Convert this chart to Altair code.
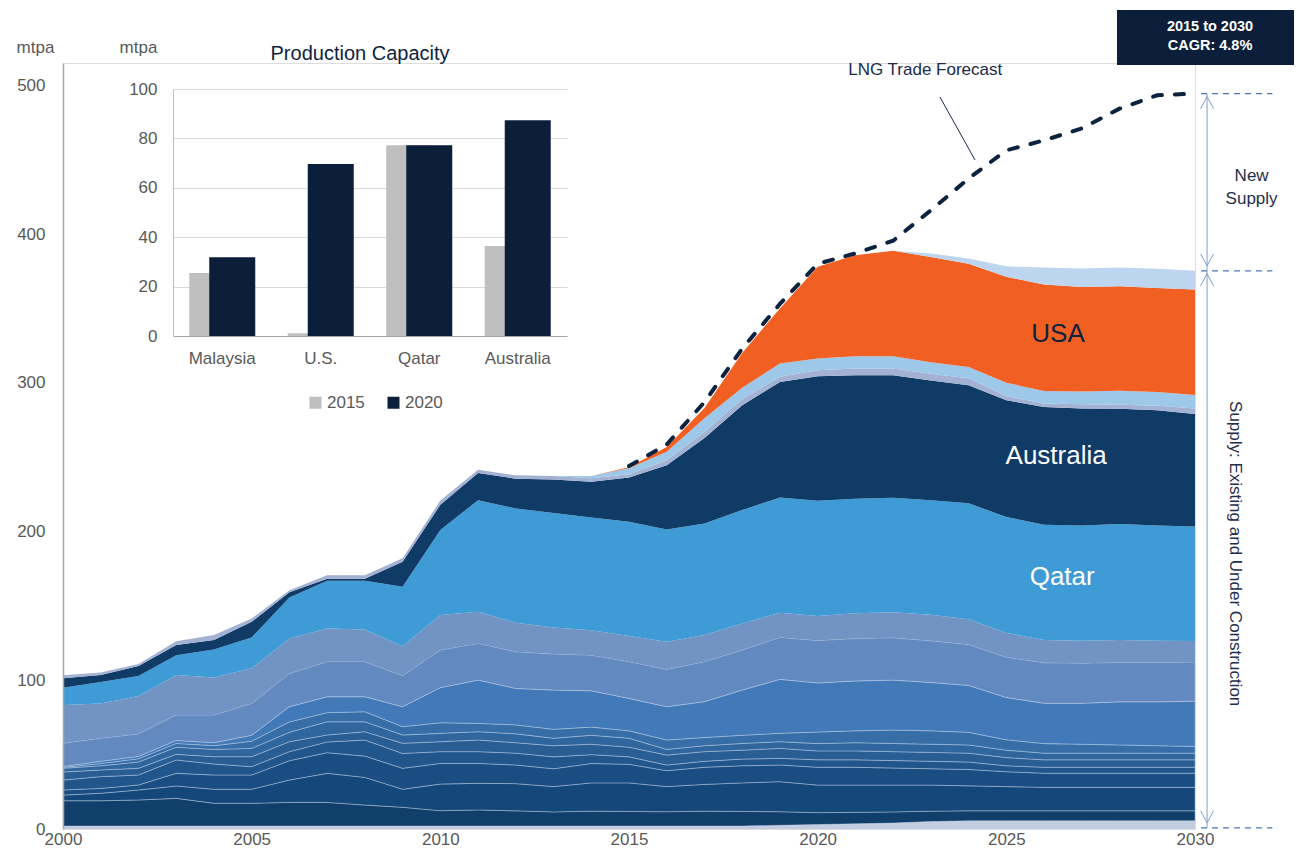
import altair as alt
import pandas as pd

FONT = "Liberation Sans"
GREY = "#595959"
NAVY = "#0c2340"

years = list(range(2000, 2031))

# cumulative layer boundaries (mtpa), bottom -> top
base_top = [2, 2, 2, 2, 2, 2, 2, 2, 2, 2, 2, 2, 2, 2, 2, 2, 2, 2, 2, 2.5, 3, 3.5, 4, 5, 5.5, 5.5, 5.5, 5.5, 5.5, 5.5, 5.5]
b1_top = [19, 19, 19.5, 20.6, 17.3, 17.3, 17.9, 17.9, 16.1, 14.6, 12.3, 12.8, 12.2, 11.5, 12, 11.8, 11.6, 12, 11.8, 11.6, 11, 11.2, 11.5, 12, 12.2, 12.2, 12.2, 12.2, 12.2, 12.2, 12.2]
b2_top = [22.8, 24, 26.2, 28.9, 26.7, 26.7, 32.9, 37.4, 34.7, 26.7, 30.2, 30.7, 30.5, 28.5, 31, 31, 28.5, 30, 31, 31.8, 29.5, 29.5, 29.5, 29.5, 29, 28.5, 28, 28, 28, 28, 28]
b3_top = [26.2, 27.3, 29.6, 37.4, 36.3, 36.3, 45.9, 51.3, 49, 40.8, 44.1, 44.1, 43, 40.5, 44, 43.5, 39.2, 41.5, 42.5, 43, 41.5, 41.5, 41, 40.5, 40, 38.5, 37.5, 37.5, 37.5, 37.5, 37.5]
b4_top = [32.9, 35.2, 36.3, 46.4, 43.7, 41.9, 52, 58.5, 59.8, 50.8, 52, 52, 51, 48.5, 50, 48.5, 43, 45.5, 47, 47.5, 46.5, 46.5, 46, 45.5, 45, 42.5, 41.5, 41.5, 41.5, 41.5, 41.5]
b5_top = [38.3, 39.7, 40.8, 50.2, 48.6, 48.6, 58.7, 63.2, 65.4, 57.6, 58.7, 59.8, 58, 56, 57, 55, 49.7, 52, 53, 54.2, 52.5, 52.5, 52, 51.5, 51, 48, 46.5, 46.5, 46.5, 46.5, 46.5]
b6_top = [40.8, 42.5, 45, 55, 53.5, 54.2, 65, 72.1, 72.1, 63.2, 64.3, 65.4, 64, 61, 63, 61, 53.5, 56, 57.5, 58.7, 57.4, 58, 57.5, 57, 56.5, 53, 51, 51, 51, 51, 51]
b7_top = [41.4, 44, 47.2, 57.5, 56, 59, 72, 78.2, 78.8, 68.8, 71.4, 71, 70, 67, 68.5, 66, 59.8, 61.5, 63, 64.3, 65.2, 66, 66.5, 66, 65, 60, 57.4, 57, 56.5, 56, 55.5]
b8_top = [42, 45.5, 48.8, 59.5, 58, 63, 82.2, 88.9, 88.9, 82.2, 95, 100.1, 94.5, 93.4, 92.9, 87.8, 82.2, 85.6, 93.4, 100.6, 98.2, 99.5, 100.1, 98.5, 96.5, 88.4, 84.5, 84.5, 85.5, 85.5, 85.9]
m_top = [57.6, 61, 63.9, 76.6, 76.6, 84.4, 104.5, 112.5, 112.5, 103.1, 120.3, 124.8, 119.2, 117.6, 116.9, 112.5, 107.3, 112.5, 120.3, 128.8, 126.7, 128, 128.5, 126.5, 124, 115.5, 111.7, 111.5, 112, 112, 112.2]
s_top = [83.3, 84.4, 89.4, 103.5, 101.9, 108, 128.1, 134.8, 134.1, 122.9, 143.8, 146, 138.7, 135.5, 133.7, 129.7, 125.9, 130.4, 138.2, 145.4, 143.2, 145, 145.8, 144, 141, 131.8, 127.1, 126.5, 127, 126.5, 126.4]
qatar_top = [95, 98.8, 102.8, 116.9, 120.7, 128.8, 155.7, 166.9, 166.9, 162.9, 201, 221.1, 215.5, 212.5, 209.5, 206.5, 201.4, 205.4, 214.4, 222.9, 220.7, 222, 222.7, 221, 219, 209.8, 204.6, 204, 205, 204, 203.4]
australia_top = [101.3, 103.5, 109.6, 123.7, 127, 139.3, 159.1, 168.3, 168.3, 179.7, 218, 239.3, 235.5, 235, 233.5, 236.3, 244.6, 262.8, 284.9, 300.6, 304.4, 305.1, 305.1, 301.5, 298.4, 288.3, 283.8, 282.7, 282.5, 281.6, 279]
lav_top = [103.4, 105.3, 111, 126.3, 130.4, 141.6, 160.6, 170.6, 170.6, 182, 220.8, 241.5, 237.8, 237.3, 235.8, 238.5, 248, 267, 289, 304, 308.5, 309.6, 309.6, 306, 303, 291, 286, 285.5, 285.3, 284.5, 282.7]
lb_top = [103.4, 105.3, 111, 126.3, 130.4, 141.6, 160.6, 170.6, 170.6, 182, 220.8, 241.5, 237.8, 237.3, 237.3, 242.5, 253.6, 276.2, 296.6, 313, 316.3, 317.9, 317.9, 313.8, 310.6, 300, 294.5, 294.2, 294.6, 293.8, 291.8]
usa_top = [103.4, 105.3, 111, 126.3, 130.4, 141.6, 160.6, 170.6, 170.6, 182, 220.8, 241.5, 237.8, 237.3, 237.3, 243.2, 256.9, 283, 320, 350, 378, 385.8, 388.7, 384.6, 380.1, 371.3, 366, 364.4, 364.9, 363.8, 362.7]
new_top = [103.4, 105.3, 111, 126.3, 130.4, 141.6, 160.6, 170.6, 170.6, 182, 220.8, 241.5, 237.8, 237.3, 237.3, 243.2, 256.9, 283, 320, 350, 378, 385.8, 388.7, 387, 383.5, 378.3, 377.5, 376.8, 377.5, 376.6, 375.3]

layer_names = ["Base", "S1", "S2", "S3", "S4", "S5", "S6", "S7", "S8", "S9", "S10",
               "Qatar", "Australia", "Other", "Other2", "USA", "Other3"]
layer_colors = ["#c3cde1", "#113f6c", "#14477a", "#1a4e83", "#21568c", "#295e95", "#30669e",
                "#376ea8", "#4279b8", "#6289c0", "#7294c4", "#3e9bd6", "#0f3b66",
                "#a3b1d3", "#9ec8ea", "#f16022", "#bdd5ee"]
layer_sep = [0, 0.5, 0.5, 0.5, 0.5, 0.5, 0.5, 0.5, 0.5, 0.5, 0, 0, 0, 0, 0, 0, 0]

fc_years = list(range(2015, 2031))
forecast = [244, 258.5, 287, 323, 353, 380, 387, 395.5, 416, 437.3, 456.3, 463, 471, 484.3, 493.3, 494.4]

inset_cats = ["Malaysia", "U.S.", "Qatar", "Australia"]
cap_2015 = [25.5, 1.1, 77.2, 36.4]
cap_2020 = [31.9, 69.6, 77.2, 87.3]

bounds = [[0] * len(years), base_top, b1_top, b2_top, b3_top, b4_top, b5_top, b6_top, b7_top,
          b8_top, m_top, s_top, qatar_top, australia_top, lav_top, lb_top, usa_top, new_top]

rows = []
for i, name in enumerate(layer_names):
    for yr, lo, hi in zip(years, bounds[i], bounds[i + 1]):
        rows.append({"year": yr, "layer": name, "lo": lo, "hi": hi, "sep": layer_sep[i]})
area_df = pd.DataFrame(rows)

# ---------- main chart scales / axes ----------
x_sc = alt.Scale(domain=[2000, 2030], nice=False, zero=False)
y_sc = alt.Scale(domain=[0, 515], nice=False, zero=False)
x_axis = alt.Axis(values=list(range(2000, 2031, 5)), format="d", title=None, grid=False, ticks=False,
                  domain=False, labelFontSize=17, labelColor=GREY, labelFont=FONT, labelPadding=15,
                  labelBaseline="alphabetic", labelFlush=False)
y_axis = alt.Axis(values=list(range(0, 501, 100)), title="mtpa", titleAngle=0, titleX=-28, titleY=-16,
                  titleAlign="center", titleBaseline="middle", titleFontSize=17, titleFontWeight="normal",
                  titleColor=GREY, titleFont=FONT, grid=False, ticks=False, domainColor="#a6a6a6",
                  domainWidth=1.5, labelFontSize=17, labelColor=GREY, labelFont=FONT, labelPadding=18,
                  zindex=1)


def xm(f):
    return alt.X(f"{f}:Q", scale=x_sc, axis=x_axis)


def ym(f):
    return alt.Y(f"{f}:Q", scale=y_sc, axis=y_axis)


areas = alt.Chart(area_df).mark_area(interpolate="linear", stroke="#c9d7ec", strokeWidth=0.8).encode(
    x=xm("year"), y=ym("lo"), y2="hi",
    color=alt.Color("layer:N", scale=alt.Scale(domain=layer_names, range=layer_colors), legend=None),
    strokeOpacity=alt.StrokeOpacity("sep:Q", scale=None),
)

fc_df = pd.DataFrame({"year": fc_years, "v": forecast})
fline = alt.Chart(fc_df).mark_line(color=NAVY, strokeWidth=4, strokeDash=[9, 13], strokeCap="round").encode(
    x=xm("year"), y=ym("v"))

total_end = new_top[-1]
arrow_x = 2030.32
arrow_bottom = 0.8
arrow_df = pd.DataFrame({"year": [arrow_x, arrow_x], "v1": [forecast[-1], total_end], "v2": [total_end, arrow_bottom]})
arrow_lines = alt.Chart(arrow_df).mark_rule(color="#7d9fcc", strokeWidth=1).encode(x=xm("year"), y=ym("v1"), y2="v2")

guide_df = pd.DataFrame({"x1": [2030.16] * 3, "x2": [2032.05] * 3, "v": [forecast[-1], total_end, arrow_bottom]})
guides = alt.Chart(guide_df).mark_rule(color="#4a78b5", strokeWidth=1.2, strokeDash=[6, 5]).encode(
    x=xm("x1"), x2="x2", y=ym("v"))

UP = "M-1.3,2.4L0,0L1.3,2.4"
DOWN = "M-1.3,-2.4L0,0L1.3,-2.4"
heads_up = alt.Chart(pd.DataFrame({"year": [arrow_x, arrow_x], "v": [forecast[-1], total_end]})).mark_point(
    shape=UP, filled=False, size=100, strokeWidth=1, color="#7d9fcc", opacity=1, yOffset=3).encode(
    x=xm("year"), y=ym("v"))
heads_down = alt.Chart(pd.DataFrame({"year": [arrow_x, arrow_x], "v": [total_end, arrow_bottom]})).mark_point(
    shape=DOWN, filled=False, size=100, strokeWidth=1, color="#7d9fcc", opacity=1, yOffset=-5).encode(
    x=xm("year"), y=ym("v"))

pointer = alt.Chart(pd.DataFrame({"x1": [2023.24], "x2": [2024.17], "v1": [492.1], "v2": [449.8]})).mark_rule(
    color="#1a2b4a", strokeWidth=1).encode(x=xm("x1"), x2="x2", y=ym("v1"), y2="v2")

lng_text = alt.Chart(pd.DataFrame({"year": [2022.85], "v": [510.3], "t": ["LNG Trade Forecast"]})).mark_text(
    fontSize=17, font=FONT, color="#1a2b4a").encode(x=xm("year"), y=ym("v"), text="t:N")

new_text = alt.Chart(pd.DataFrame({"year": [2031.5], "v": [438.8], "t": ["New\nSupply"]})).mark_text(
    fontSize=17, font=FONT, color="#1f2f4a", lineBreak="\n", lineHeight=23).encode(x=xm("year"), y=ym("v"), text="t:N")

exist_text = alt.Chart(pd.DataFrame({"year": [2031.05], "v": [185.1], "t": ["Supply: Existing and Under Construction"]})).mark_text(
    fontSize=17, font=FONT, color="#1f2f4a", angle=90).encode(x=xm("year"), y=ym("v"), text="t:N")

country_df = pd.DataFrame({"year": [2026.37, 2026.32, 2026.48], "v": [332.7, 250.7, 169.4],
                           "t": ["USA", "Australia", "Qatar"], "col": [NAVY, "#ffffff", "#ffffff"]})
country_text = alt.Chart(country_df).mark_text(fontSize=26, font=FONT).encode(
    x=xm("year"), y=ym("v"), text="t:N", color=alt.Color("col:N", scale=None))

box = alt.Chart(pd.DataFrame({"a": [0]})).mark_rect(color="#0b1f3a").encode(
    x=alt.value(1054), x2=alt.value(1240), y=alt.value(-53), y2=alt.value(2))
box_text = alt.Chart(pd.DataFrame({"t": ["2015 to 2030", "CAGR: 4.8%"], "py": [-36, -17]})).mark_text(
    fontSize=14.5, fontWeight="bold", font=FONT, color="#ffffff").encode(
    x=alt.value(1147), y=alt.Y("py:Q", scale=None), text="t:N")

main = alt.layer(areas, fline, arrow_lines, guides, heads_up, heads_down, pointer, lng_text, new_text,
                 exist_text, country_text, box, box_text)

# ---------- inset bar chart ----------
inset_rows = []
for c, a, b in zip(inset_cats, cap_2015, cap_2020):
    inset_rows.append({"cat": c, "yr": "2015", "cap": a})
    inset_rows.append({"cat": c, "yr": "2020", "cap": b})
inset_df = pd.DataFrame(inset_rows)

x_i = alt.X("cat:N", sort=inset_cats,
            scale=alt.Scale(domain=inset_cats, range=[110, 504], paddingInner=0, paddingOuter=0),
            axis=alt.Axis(orient="bottom", offset=-493, labelAngle=0, ticks=False, grid=False,
                          domainColor="#a6a6a6", domainWidth=1, labelFontSize=17, labelColor=GREY,
                          labelFont=FONT, labelPadding=14, title=None))
y_i = alt.Y("cap:Q", scale=alt.Scale(domain=[0, 100], range=[273, 26], nice=False),
            axis=alt.Axis(orient="left", offset=-110, values=[0, 20, 40, 60, 80, 100], grid=True,
                          gridColor="#d9d9d9", ticks=False, domainColor="#bfbfbf", labelFontSize=17,
                          labelColor=GREY, labelFont=FONT, labelPadding=16, title="mtpa", titleAngle=0,
                          titleX=-35, titleY=-16, titleAlign="center", titleBaseline="middle",
                          titleFontSize=17, titleFontWeight="normal", titleColor=GREY, titleFont=FONT))
c_i = alt.Color("yr:N", scale=alt.Scale(domain=["2015", "2020"], range=["#bfbfbf", "#0b1f3a"]),
                legend=alt.Legend(orient="none", legendX=244, legendY=331, direction="horizontal",
                                  title=None, symbolType="square", symbolSize=144, symbolStrokeWidth=0,
                                  labelFontSize=17, labelColor=GREY, labelFont=FONT, columnPadding=20,
                                  labelOffset=3, padding=0))

bars15 = alt.Chart(inset_df[inset_df.yr == "2015"]).mark_bar(size=46, xOffset=-10).encode(x=x_i, y=y_i, color=c_i)
bars20 = alt.Chart(inset_df[inset_df.yr == "2020"]).mark_bar(size=46, xOffset=10).encode(x=x_i, y=y_i, color=c_i)
pc_title = alt.Chart(pd.DataFrame({"t": ["Production Capacity"]})).mark_text(
    fontSize=20, font=FONT, color=NAVY).encode(x=alt.value(297), y=alt.value(-9), text="t:N")

inset = alt.layer(bars15, bars20, pc_title)

chart = alt.layer(main, inset).resolve_scale(
    x="independent", y="independent", color="independent"
).properties(
    width=1132, height=766,
    autosize=alt.AutoSizeParams(type="none"),
    padding={"left": 55, "top": 55, "right": 99, "bottom": 22},
).configure_view(stroke=None).configure(font=FONT)

chart.save("out.html", embed_options={"renderer": "svg", "actions": False})
